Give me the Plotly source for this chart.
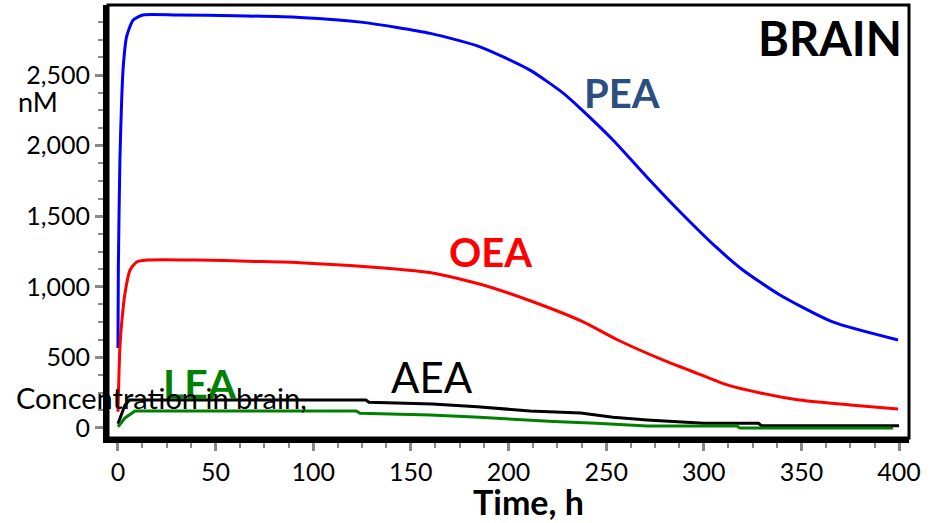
import plotly.graph_objects as go

# ---- data ----
pea_t = [0, 0.2, 1.0, 1.9, 2.7, 4.4, 7.8, 12.8, 30, 60, 93, 125.5, 160, 185.4, 211, 228, 236.6, 253.5, 270.7, 287.8, 306.8, 320, 339, 366, 399.5]
pea_v = [567, 1140, 1898, 2323, 2557, 2770, 2890, 2925, 2925, 2920, 2908, 2873, 2795, 2700, 2535, 2372, 2266, 2040, 1780, 1532, 1275, 1119, 942, 751, 623]

oea_t = [0, 1.0, 1.9, 3.6, 6.2, 9.6, 14.7, 40, 70, 93, 136, 161, 187, 212.5, 238, 256, 279, 297, 312, 329, 349, 375, 399.5]
oea_v = [115, 574, 743, 955, 1119, 1176, 1190, 1190, 1180, 1171, 1133, 1098, 1013, 894, 753, 623, 482, 385, 305, 248, 198, 163, 135]

aea_t = [0, 3.6, 6, 127, 128.5, 161, 184, 211, 237, 253.5, 271, 283, 300, 328, 329.5, 400]
aea_v = [30, 163, 198, 198, 182, 170, 151, 120, 106, 76, 57, 45, 33, 33, 16, 16]

lea_t = [0, 3.6, 8.7, 122, 124, 160, 185, 206, 223, 245, 271, 300, 317, 318.5, 397]
lea_v = [9, 71, 120, 120, 104, 92, 76, 57, 45, 33, 14, 14, 14, 0, 0]

x_ticks = [0, 50, 100, 150, 200, 250, 300, 350, 400]
y_ticks = [0, 500, 1000, 1500, 2000, 2500]
y_tick_text = ["0", "500", "1,000", "1,500", "2,000", "2,500"]

FONT = "Lato"

fig = go.Figure()
fig.add_trace(go.Scatter(x=pea_t, y=pea_v, mode="lines", line=dict(color="#0000ff", width=3, shape="spline", smoothing=0.6), showlegend=False))
fig.add_trace(go.Scatter(x=oea_t, y=oea_v, mode="lines", line=dict(color="#ff0000", width=3, shape="spline", smoothing=0.6), showlegend=False))
fig.add_trace(go.Scatter(x=aea_t, y=aea_v, mode="lines", line=dict(color="#000000", width=3), showlegend=False))
fig.add_trace(go.Scatter(x=lea_t, y=lea_v, mode="lines", line=dict(color="#008000", width=3), showlegend=False))

L, R, T, B = 108, 29, 5, 85
W, H = 938, 523
pw, ph = W - L - R, H - T - B


def px(x):
    return (x - L) / pw


def py(y):
    return (H - B - y) / ph


def ann(text, x, y, size, color="#000000", bold=False):
    fig.add_annotation(text=("<b>%s</b>" % text) if bold else text, x=px(x), y=py(y),
                       xref="paper", yref="paper", showarrow=False,
                       xanchor="center", yanchor="middle",
                       font=dict(family=FONT, size=size, color=color))


ann("BRAIN", 830, 38, 47, bold=True)
ann("PEA", 622, 93, 40, "#2a4f80", bold=True)
ann("OEA", 490, 252, 40, "#ff0000", bold=True)
ann("AEA", 432, 377, 42, "#000000")
ann("LEA", 200, 383, 41, "#008000", bold=True)
ann("Concentration in brain,", 161, 397, 29)
ann("nM", 38, 102, 27)
ann("Time, h", 528, 501, 34, bold=True)

fig.add_shape(type="rect", xref="paper", yref="paper", x0=0, x1=1, y0=0, y1=1,
              line=dict(color="black", width=3), layer="above")

fig.update_layout(
    width=W, height=H,
    margin=dict(l=L, r=R, t=T, b=B),
    plot_bgcolor="white", paper_bgcolor="white",
    font=dict(family=FONT, color="black"),
    xaxis=dict(range=[-5.1, 405.1], tickvals=x_ticks, ticks="outside", ticklen=8, tickwidth=3,
               tickcolor="#888888", showgrid=False, zeroline=False, showline=True,
               linewidth=5, linecolor="black", tickfont=dict(size=25, family=FONT),
               minor=dict(dtick=12.5, ticks="outside", ticklen=5, tickwidth=2, tickcolor="#888888")),
    yaxis=dict(range=[-71, 2996], tickvals=y_ticks, ticktext=y_tick_text, ticks="outside", ticklen=8,
               tickwidth=3, tickcolor="#888888", showgrid=False, zeroline=False, showline=True,
               linewidth=5, linecolor="black", tickfont=dict(size=25, family=FONT),
               minor=dict(dtick=125, ticks="outside", ticklen=5, tickwidth=2, tickcolor="#888888")),
)

fig.write_html("out.html")
